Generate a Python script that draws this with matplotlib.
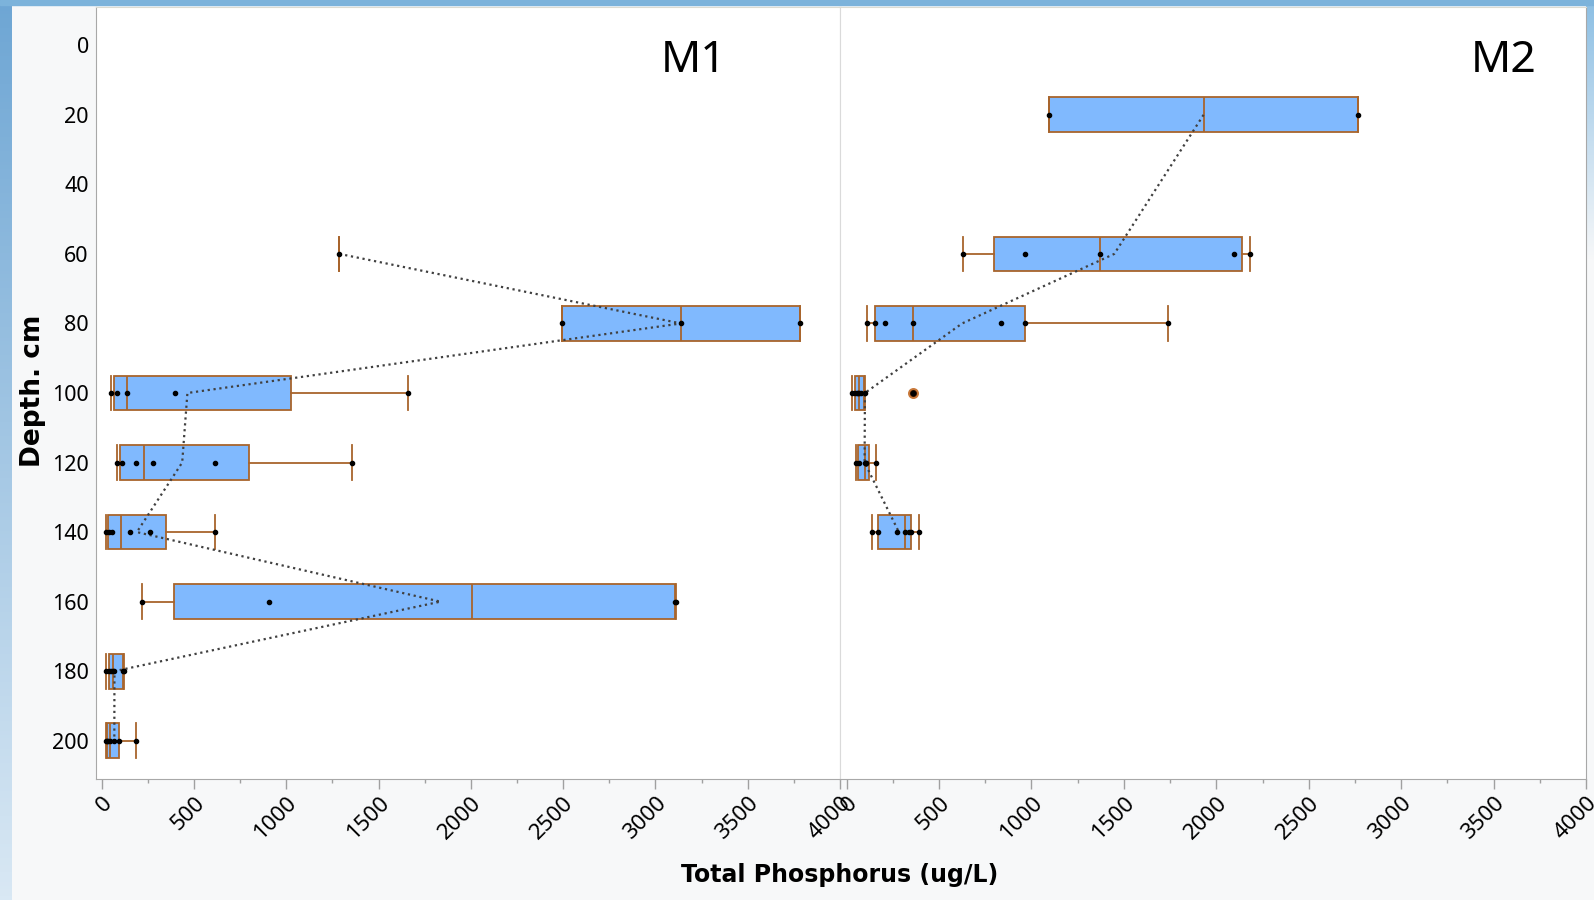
import numpy as np
import matplotlib.pyplot as plt
from matplotlib.colors import LinearSegmentedColormap
from matplotlib.ticker import MultipleLocator

# total phosphorus readings (ug/L) per depth
m1_depths = [60, 80, 100, 120, 140, 160, 180, 200]
m1_values = [
    [1288],
    [2495, 3140, 3781],
    [52, 83, 135, 395, 1659],
    [82, 108, 184, 276, 613, 1356],
    [22, 40, 58, 153, 260, 613],
    [220, 907, 3105, 3110],
    [25, 40, 52, 62, 66, 118, 124],
    [24, 30, 36, 45, 67, 96, 184],
]

m2_depths = [20, 60, 80, 100, 120, 140]
m2_values = [
    [1096, 2766],
    [628, 963, 1369, 2098, 2181],
    [110, 154, 210, 359, 833, 966, 1740],
    [28, 45, 55, 64, 68, 76, 97, 358],
    [50, 68, 98, 102, 106, 158],
    [139, 171, 275, 315, 338, 350, 391],
]

depth_ticks = list(range(0, 201, 20))
tp_ticks = list(range(0, 4001, 500))

box_blue = '#80b9fe'
brown = '#a8642c'
W, H = 1594, 900


def box_stats(vals):
    # JMP style quantiles ((n+1)p) and 1.5 IQR whiskers
    v = np.sort(np.asarray(vals, dtype=float))
    q1, med, q3 = np.percentile(v, [25, 50, 75], method='weibull')
    iqr = q3 - q1
    ok = (v >= q1 - 1.5 * iqr) & (v <= q3 + 1.5 * iqr)
    return dict(q1=q1, med=med, q3=q3, whislo=v[ok].min(), whishi=v[ok].max(),
                fliers=v[~ok])


def draw_panel(ax, depths, values, name, name_x):
    stats = [box_stats(v) for v in values]
    lw = 1.3
    ax.bxp(stats, positions=depths, widths=10, capwidths=10,
           orientation='horizontal', patch_artist=True, manage_ticks=False,
           boxprops=dict(facecolor=box_blue, edgecolor=brown, linewidth=lw),
           whiskerprops=dict(color=brown, linewidth=lw),
           capprops=dict(color=brown, linewidth=lw),
           medianprops=dict(color=brown, linewidth=lw),
           flierprops=dict(marker='o', markerfacecolor='#3a1800',
                           markeredgecolor='#c8783a', markersize=6.5,
                           markeredgewidth=1.4),
           zorder=2)
    means = [np.mean(v) for v in values]
    ax.plot(means, depths, ls=':', color='#404040', lw=1.6, zorder=3)
    for d, v in zip(depths, values):
        ax.plot(v, [d] * len(v), 'o', color='black', ms=3.0, zorder=4)

    ax.set_facecolor('white')
    ax.set_xlim(-32, 4000)
    ax.set_ylim(211, -11)
    ax.set_xticks(tp_ticks)
    ax.xaxis.set_minor_locator(MultipleLocator(250))
    ax.tick_params(axis='x', which='major', length=7, width=1, color='#a0a0a0',
                   labelsize=16, pad=3)
    ax.tick_params(axis='x', which='minor', length=3, width=1, color='#a0a0a0')
    for lbl in ax.get_xticklabels():
        lbl.set_rotation(45)
        lbl.set_ha('right')
        lbl.set_va('top')
        lbl.set_rotation_mode('anchor')
        lbl.set_fontfamily('Noto Sans')
    ax.text(name_x, 0.93, name, transform=ax.transAxes, ha='center', va='center',
            fontsize=32, family='Noto Sans', color='black')
    for s in ax.spines.values():
        s.set_color('#a8a8a8')
    ax.spines['top'].set_color('#dcdcd2')


fig = plt.figure(figsize=(W / 100, H / 100), dpi=100, facecolor='#f7f8f9')

# slide background: blue edge strips
bg = fig.add_axes([0, 0, 1, 1], zorder=-10)
bg.set_xlim(0, 1)
bg.set_ylim(0, 1)
bg.axis('off')
edge = LinearSegmentedColormap.from_list('edge', ['#d9e8f4', '#6ea6d4'])
bg.imshow(np.linspace(0, 1, 256).reshape(-1, 1), cmap=edge, origin='lower',
          extent=[0, 12 / W, 0, 1], aspect='auto')
bg.imshow(np.linspace(0, 1, 256).reshape(-1, 1),
          cmap=LinearSegmentedColormap.from_list('rt', ['#f7f8f9', '#8cbfe4']),
          origin='lower', extent=[1 - 8 / W, 1, 1 - 260 / H, 1], aspect='auto')
bg.axhspan(1 - 5 / H, 1, color='#7cb3db')

bottom = 1 - 779 / H
height = 772 / H
ax1 = fig.add_axes([95.7 / W, bottom, (840 - 95.7) / W, height])
ax2 = fig.add_axes([840 / W, bottom, (1586 - 840) / W, height], sharey=ax1)

draw_panel(ax1, m1_depths, m1_values, 'M1', 0.804)
draw_panel(ax2, m2_depths, m2_values, 'M2', 0.889)
ax2.set_xlim(-36, 4000)

ax1.set_yticks(depth_ticks)
ax1.tick_params(axis='y', length=0, labelsize=15.5, pad=5)
for lbl in ax1.get_yticklabels():
    lbl.set_fontfamily('Noto Sans')
ax2.tick_params(axis='y', left=False, labelleft=False)
ax1.spines['right'].set_color('#dadada')
ax2.spines['left'].set_color('#dadada')

fig.text(840 / W, 1 - 875 / H, 'Total Phosphorus (ug/L)', ha='center', va='center',
         fontsize=17, fontweight='bold', family='DejaVu Sans')
fig.text(33.5 / W, 1 - 391 / H, 'Depth. cm', ha='center', va='center', rotation=90,
         fontsize=19, fontweight='bold', family='DejaVu Sans')

fig.savefig('out.png', dpi=100, facecolor=fig.get_facecolor())
